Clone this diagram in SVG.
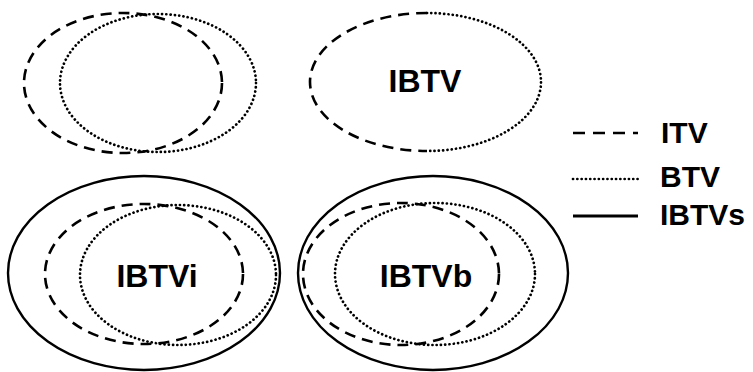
<svg xmlns="http://www.w3.org/2000/svg" width="753" height="372" viewBox="0 0 753 372">
<style>
.bg{fill:#ffffff}
.e{fill:none;stroke:#000}
.dash{stroke-width:2.6;stroke-dasharray:11 7}
.dot{stroke-width:2.7;stroke-dasharray:0.1 4.2;stroke-linecap:round}
.solid{stroke-width:2.4}
.lbl{font-family:"Liberation Sans",Arial,sans-serif;font-weight:bold;font-size:32px;fill:#000;text-anchor:middle}
.leg{font-family:"Liberation Sans",Arial,sans-serif;font-weight:bold;font-size:30px;fill:#000}
</style>
<rect class="bg" x="0" y="0" width="753" height="372"/>
<g id="top-left">
  <ellipse class="e dash" cx="123" cy="83" rx="99" ry="70"/>
  <ellipse class="e dot" cx="158" cy="83" rx="98" ry="69"/>
</g>
<g id="ibtv">
  <path class="e dash" d="M427 13 A117 69 0 0 0 427 151"/>
  <path class="e dot" d="M427 13 A114 69 0 0 1 427 151"/>
  <text class="lbl" x="425" y="92">IBTV</text>
</g>
<g id="ibtvi">
  <ellipse class="e solid" cx="144" cy="273" rx="136" ry="97"/>
  <ellipse class="e dash" cx="144" cy="274" rx="99" ry="70"/>
  <ellipse class="e dot" cx="178" cy="275" rx="98" ry="70"/>
  <text class="lbl" x="157" y="287">IBTVi</text>
</g>
<g id="ibtvb">
  <ellipse class="e solid" cx="433" cy="273" rx="135" ry="97"/>
  <ellipse class="e dash" cx="401" cy="274" rx="98" ry="71"/>
  <ellipse class="e dot" cx="435" cy="274" rx="100" ry="71"/>
  <text class="lbl" x="426" y="287">IBTVb</text>
</g>
<g id="legend">
  <line class="e dash" x1="573" y1="133" x2="638" y2="133" style="stroke-dasharray:12 8"/>
  <text class="leg" x="661" y="143">ITV</text>
  <line class="e dot" x1="573" y1="179" x2="638" y2="179"/>
  <text class="leg" x="660" y="187">BTV</text>
  <line class="e solid" x1="573" y1="216" x2="638" y2="216" style="stroke-width:3"/>
  <text class="leg" x="660" y="225">IBTVs</text>
</g>
</svg>
